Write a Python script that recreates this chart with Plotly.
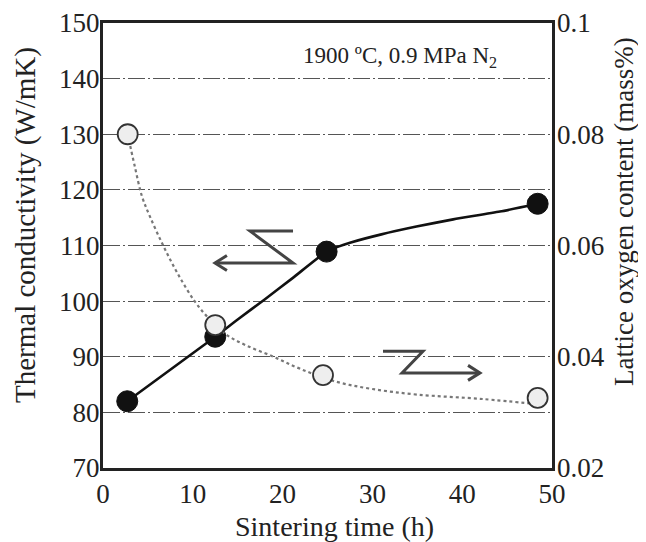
import plotly.graph_objects as go

# ---- data ----
time_h = [2.7, 12.5, 24.9, 48.4]
thermal_conductivity = [82.0, 93.6, 108.9, 117.5]

# trend curve through thermal conductivity points
tc_curve_time_h = [2.7, 12.5, 15.0, 18.0, 21.0, 24.9, 26.2, 27.5, 31.0, 34.9, 39.0, 44.2, 48.4]
tc_curve_value = [82.0, 93.6, 96.7, 100.3, 104.0, 108.9, 109.8, 110.5, 112.0, 113.4, 114.7, 116.1, 117.5]

oxy_time_h = [2.75, 12.5, 24.5, 48.4]
lattice_oxygen = [0.0800, 0.0457, 0.0367, 0.0326]

# fitted trend curve for oxygen content
fit_time_h = [2.75, 3.5, 4.35, 5.23, 6.7, 8.3, 10.2, 12.0, 13.8, 16.0, 19.0, 22.0, 26.0, 30.0, 35.0, 42.3, 48.2]
fit_oxygen = [0.0800, 0.0745, 0.0688, 0.0652, 0.0600, 0.0550, 0.0500, 0.0465, 0.0439, 0.0420, 0.0400, 0.0378,
              0.0355, 0.0342, 0.0332, 0.0324, 0.0315]

x_ticks = [0, 10, 20, 30, 40, 50]
y1_ticks = [70, 80, 90, 100, 110, 120, 130, 140, 150]
y2_ticks = [0.02, 0.04, 0.06, 0.08, 0.1]
y2_labels = ["0.02", "0.04", "0.06", "0.08", "0.1"]

FONT = "Liberation Serif"
TXT = "#222222"
fig = go.Figure()

fig.add_trace(go.Scatter(
    x=fit_time_h, y=fit_oxygen, yaxis="y2", mode="lines",
    line=dict(color="#777777", width=2.2, dash="dot", shape="spline"),
    showlegend=False, hoverinfo="skip"))

fig.add_trace(go.Scatter(
    x=oxy_time_h, y=lattice_oxygen, yaxis="y2", mode="markers",
    marker=dict(size=20, color="#eeeeee", line=dict(color="#333333", width=1.8)),
    showlegend=False))

fig.add_trace(go.Scatter(
    x=tc_curve_time_h, y=tc_curve_value, mode="lines",
    line=dict(color="#111111", width=2.6, shape="spline", smoothing=0.6),
    showlegend=False, hoverinfo="skip"))

fig.add_trace(go.Scatter(
    x=time_h, y=thermal_conductivity, mode="markers",
    marker=dict(size=21, color="#111111", line=dict(color="#111111", width=1)),
    showlegend=False))

# arrows (decorations)
arrow_col = "#444444"
shapes = [
    dict(type="path", xref="x", yref="y",
         path="M 21.16 112.6 L 16.37 112.6 L 21.16 106.85 L 12.47 106.85",
         line=dict(color=arrow_col, width=3)),
    dict(type="path", xref="x", yref="y",
         path="M 13.8 108.2 L 12.47 106.85 L 13.8 105.5",
         line=dict(color=arrow_col, width=3)),
    dict(type="path", xref="x", yref="y",
         path="M 31.18 91.0 L 35.63 91.0 L 33.3 87.1 L 41.98 87.1",
         line=dict(color=arrow_col, width=3)),
    dict(type="path", xref="x", yref="y",
         path="M 40.65 88.45 L 41.98 87.1 L 40.65 85.75",
         line=dict(color=arrow_col, width=3)),
]

# the page body has an 8px margin, so the figure is drawn 8px smaller and offset
OFF = 8
W, H = 646 - OFF, 542 - OFF
L, T = 103 - OFF, 23 - OFF
R = W - (552 - OFF)
B = H - (468 - OFF)
PW, PH = W - L - R, H - T - B

annotations = [
    dict(x=33.1, y=143.9, xref="x", yref="y", showarrow=False, xanchor="center", yanchor="middle",
         text="1900 ºC, 0.9 MPa N<sub>2</sub>", font=dict(size=23, family=FONT, color=TXT)),
    dict(x=26, y=225, xref="paper", yref="paper", showarrow=False, textangle=-90,
         text="Thermal conductivity (W/mK)", font=dict(size=29, family=FONT, color=TXT)),
    dict(x=624, y=212, xref="paper", yref="paper", showarrow=False, textangle=-90,
         text="Lattice oxygen content (mass%)", font=dict(size=27, family=FONT, color=TXT)),
    dict(x=334, y=526, xref="paper", yref="paper", showarrow=False,
         text="Sintering time (h)", font=dict(size=28, family=FONT, color=TXT)),
]
# convert page-pixel positions of axis titles to paper coordinates
for a in annotations[1:]:
    a["x"] = (a["x"] - OFF - L) / PW
    a["y"] = (H - B - (a["y"] - OFF)) / PH
    a["xanchor"] = "center"
    a["yanchor"] = "middle"

fig.update_layout(
    width=W, height=H,
    margin=dict(l=L, r=R, t=T, b=B, autoexpand=False),
    paper_bgcolor="white", plot_bgcolor="white",
    font=dict(family=FONT, size=27, color=TXT),
    shapes=shapes,
    annotations=annotations,
    xaxis=dict(range=[0, 50], tickvals=x_ticks, showgrid=False, zeroline=False,
               showline=True, linecolor="#222222", linewidth=3, mirror=True,
               ticks="", tickfont=dict(size=27), ticklabelstandoff=0, automargin=False),
    yaxis=dict(range=[70, 150], tickvals=y1_ticks, showgrid=True, gridcolor="#555555",
               griddash="17px,3px,2px,3px", gridwidth=1.4, zeroline=False,
               showline=True, linecolor="#222222", linewidth=3, mirror=True,
               ticks="", ticklabelstandoff=-5, tickfont=dict(size=27), automargin=False),
    yaxis2=dict(range=[0.02, 0.1], tickvals=y2_ticks, ticktext=y2_labels, overlaying="y", side="right",
                showgrid=False, zeroline=False, showline=False, ticks="", tickfont=dict(size=27),
                ticklabelstandoff=4, automargin=False),
)

fig.write_html("out.html")
